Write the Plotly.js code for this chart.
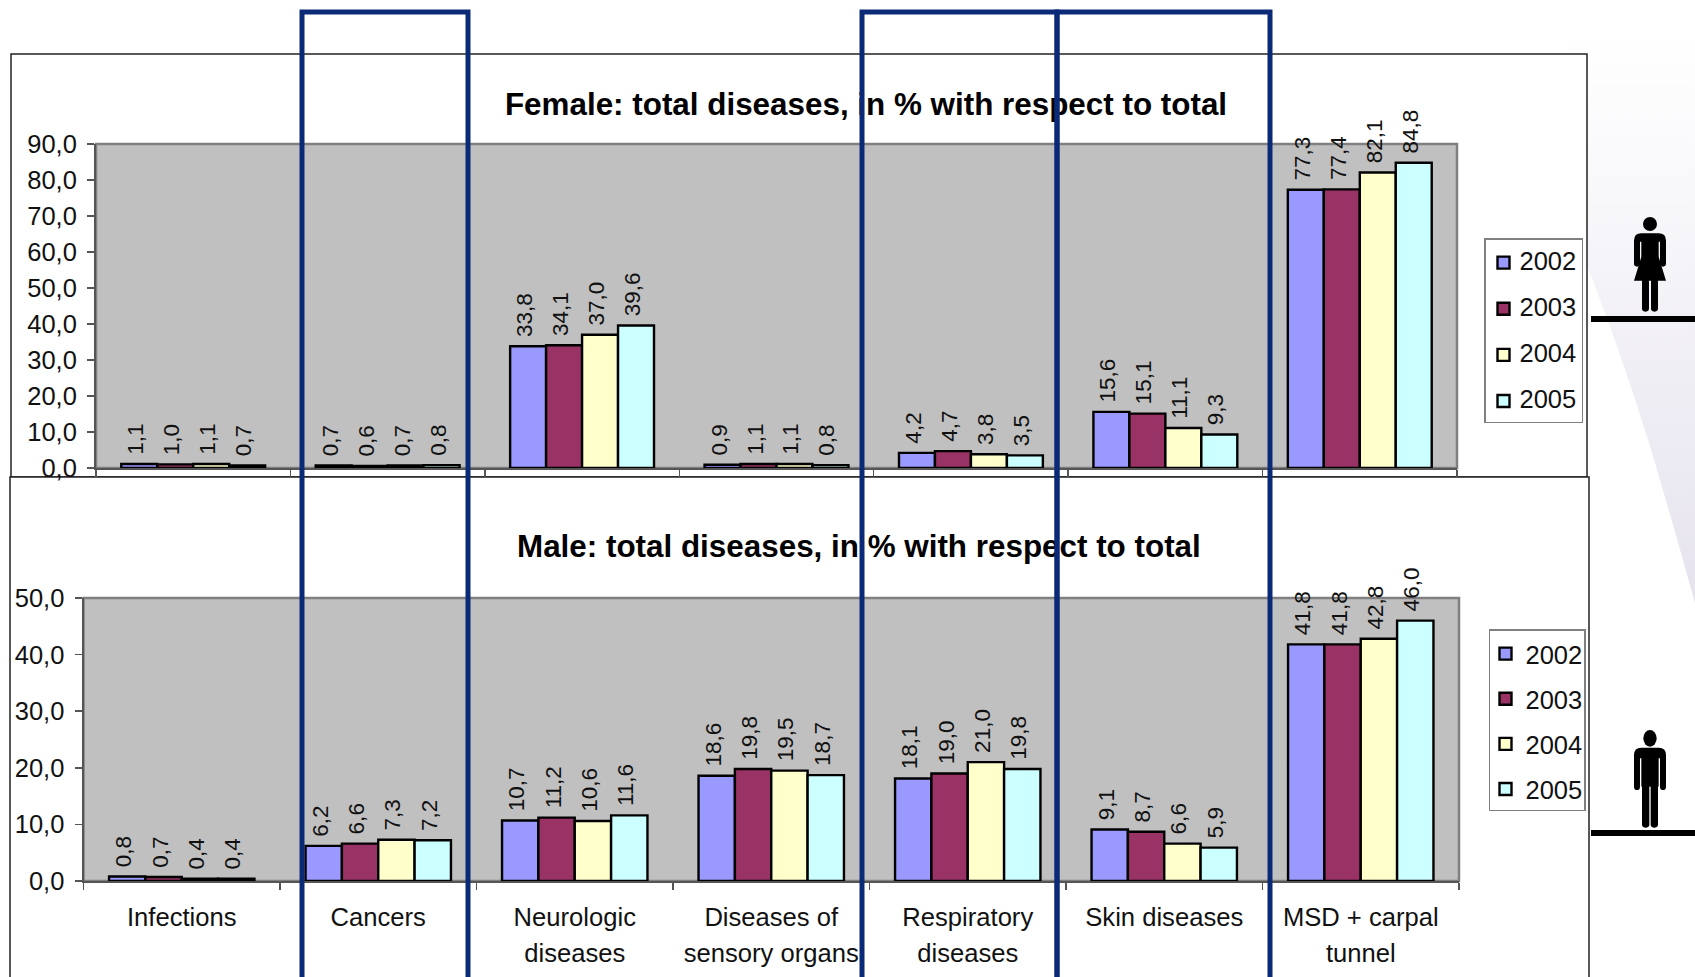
<!DOCTYPE html>
<html>
<head>
<meta charset="utf-8">
<title>Total diseases by sex</title>
<script src="https://cdn.plot.ly/plotly-3.0.1.min.js"></script>
<style>
html,body{margin:0;padding:0;background:#fff;overflow:hidden}
/* Entry text sits a little closer to the swatches and slightly above their centres */
.legend2 .legendtext{transform:translate(-3.5px,-3.5px)}
</style>
</head>
<body>
<div id="chart"></div>
<script>
// Disease groups shown along the shared category axis
const categories = ['Infections', 'Cancers', 'Neurologic<br>diseases', 'Diseases of<br>sensory organs',
                    'Respiratory<br>diseases', 'Skin diseases', 'MSD + carpal<br>tunnel'];
const years = ['2002', '2003', '2004', '2005'];
const colors = ['#9999ff', '#993366', '#ffffcc', '#ccffff'];

// Female, % with respect to total
const female2002 = [1.1, 0.7, 33.8, 0.9, 4.2, 15.6, 77.3];
const female2003 = [1.0, 0.6, 34.1, 1.1, 4.7, 15.1, 77.4];
const female2004 = [1.1, 0.7, 37.0, 1.1, 3.8, 11.1, 82.1];
const female2005 = [0.7, 0.8, 39.6, 0.8, 3.5, 9.3, 84.8];

// Male, % with respect to total
const male2002 = [0.8, 6.2, 10.7, 18.6, 18.1, 9.1, 41.8];
const male2003 = [0.7, 6.6, 11.2, 19.8, 19.0, 8.7, 41.8];
const male2004 = [0.4, 7.3, 10.6, 19.5, 21.0, 6.6, 42.8];
const male2005 = [0.4, 7.2, 11.6, 18.7, 19.8, 5.9, 46.0];

const femaleTitle = 'Female: total diseases, in % with respect to total';
const maleTitle = 'Male: total diseases, in % with respect to total';

const W = 1695, H = 977;
const px = v => v / W;
const py = v => 1 - v / H;
const FONT = '"Liberation Sans", Arial, sans-serif';
const INK = '#111111';

// Plot rectangles and frames, in page pixels
const femalePlot = {l: 96, r: 1457, t: 144, b: 468};
const malePlot = {l: 83.5, r: 1459, t: 598, b: 881};

// Category text is set smaller than the axis font, which opens up the line spacing
const tickLabels = categories.map(c => c.split('<br>').map(s => `<span style="font-size:25.6px">${s}</span>`).join('<br>'));

function series(values, i, xa, ya, legend, prefix) {
  return {
    type: 'bar', x: categories, y: values, name: years[i], xaxis: xa, yaxis: ya,
    legend: legend, legendgroup: prefix + years[i],
    marker: {color: colors[i], line: {color: '#000000', width: 2.4}},
    texttemplate: '\u00a0%{y:.1f}', textposition: 'outside', textangle: -90,
    constraintext: 'none', cliponaxis: false,
    textfont: {family: FONT, size: 22.5, color: INK}, hoverinfo: 'x+y+name'
  };
}

const traces = [
  ...[female2002, female2003, female2004, female2005].map((v, i) => series(v, i, 'x', 'y', 'legend', 'f')),
  ...[male2002, male2003, male2004, male2005].map((v, i) => series(v, i, 'x2', 'y2', 'legend2', 'm'))
];

function yAxis(plot, top, anchor) {
  return {
    domain: [py(plot.b), py(plot.t)], range: [0, top], dtick: 10, anchor: anchor,
    tickformat: '.1f', ticks: 'outside', ticklen: 7, tickwidth: 1.5, tickcolor: '#555555',
    showline: true, linecolor: '#555555', linewidth: 2, showgrid: false, zeroline: false,
    ticklabelstandoff: 5, tickfont: {family: FONT, size: 25.5, color: INK}, fixedrange: true
  };
}
function xAxis(plot, anchor, labels) {
  return {
    domain: [px(plot.l), px(plot.r)], anchor: anchor, type: 'category', categoryorder: 'array', categoryarray: categories,
    tickmode: 'array', tickvals: categories, ticktext: tickLabels,
    tickson: 'boundaries', ticks: 'outside', ticklen: 7, tickwidth: 1.5, tickcolor: '#555555',
    showline: true, linecolor: '#555555', linewidth: 2, showgrid: false, zeroline: false,
    showticklabels: labels, automargin: false, tickangle: 0, ticklabelstandoff: 10,
    tickfont: {family: FONT, size: 27.7, color: INK}, fixedrange: true
  };
}

function frame(x0, y0, x1, y1) {
  return {type: 'rect', layer: 'below', xref: 'paper', yref: 'paper', x0: px(x0), x1: px(x1), y0: py(y0), y1: py(y1),
          fillcolor: '#ffffff', line: {color: '#222222', width: 1.5}};
}
function plotArea(p) {
  return {type: 'rect', layer: 'below', xref: 'paper', yref: 'paper', x0: px(p.l), x1: px(p.r), y0: py(p.b), y1: py(p.t),
          fillcolor: '#c0c0c0', line: {color: '#808080', width: 2.5}};
}
function column(x0, x1) {
  return {type: 'rect', layer: 'above', xref: 'paper', yref: 'paper', x0: px(x0), x1: px(x1), y0: py(1010), y1: py(12),
          fillcolor: 'rgba(0,0,0,0)', line: {color: '#0a2a78', width: 5}};
}

// Page backdrop: soft lavender wedge, the two pictograms and their platforms
const womanIcon = `<g transform="translate(1600,200) scale(0.3333)">
  <circle cx="150" cy="72" r="21"/>
  <path d="M102,190V122Q102,100 124,100H176Q198,100 198,122V190Q198,200 189,200Q180,200 180,190V125H120V190Q120,200 111,200Q102,200 102,190Z"/>
  <path d="M124,105H176V170L198,242H102L124,170Z"/>
  <rect x="126" y="235" width="21" height="100" rx="10"/><rect x="153" y="235" width="21" height="100" rx="10"/></g>`;
const manIcon = `<g transform="translate(1600,720) scale(0.3333)">
  <ellipse cx="150" cy="55" rx="20" ry="25"/>
  <path d="M102,200V105Q102,83 124,83H176Q198,83 198,105V200Q198,210 189,210Q180,210 180,200V115H120V200Q120,210 111,210Q102,210 102,200Z"/>
  <path d="M124,90H176V200H124Z"/>
  <rect x="126" y="190" width="22" height="133" rx="10"/><rect x="152" y="190" width="22" height="133" rx="10"/></g>`;
const backdrop = `<svg xmlns="http://www.w3.org/2000/svg" width="${W}" height="${H}" viewBox="0 0 ${W} ${H}">
  <defs><linearGradient id="g" x1="0" y1="33" x2="0" y2="603" gradientUnits="userSpaceOnUse">
    <stop offset="0" stop-color="#ffffff"/><stop offset="1" stop-color="#e6e3ee"/></linearGradient></defs>
  <path fill="url(#g)" d="M1565,33H1695V603Q1672,520 1650,446Q1620,350 1588,268H1565Z"/>
  ${womanIcon}${manIcon}
  <rect x="1591" y="316" width="104" height="6"/><rect x="1591" y="830" width="104" height="6"/></svg>`;

function legendBox(x, y, gap) {
  return {x: px(x), y: py(y), xanchor: 'left', yanchor: 'top', bgcolor: '#ffffff', bordercolor: '#808080', borderwidth: 1.5,
          font: {family: FONT, size: 25.5, color: INK}, itemclick: false, itemdoubleclick: false, tracegroupgap: gap};
}

const layout = {
  width: W, height: H, autosize: false, margin: {l: 0, r: 0, t: 0, b: 0, pad: 0},
  paper_bgcolor: '#ffffff', plot_bgcolor: '#c0c0c0', separators: ',.',
  barmode: 'group', bargap: 0.26, bargroupgap: 0,
  title: {text: '<b>' + femaleTitle + '</b>', x: px(866), y: py(104), xref: 'paper', yref: 'paper', xanchor: 'center', yanchor: 'middle',
          font: {family: FONT, size: 31.4, color: '#000000'}},
  annotations: [{text: '<b>' + maleTitle + '</b>', x: px(859), y: py(546), xref: 'paper', yref: 'paper', xanchor: 'center', yanchor: 'middle',
                 showarrow: false, font: {family: FONT, size: 31.4, color: '#000000'}}],
  xaxis: xAxis(femalePlot, 'y', false), yaxis: yAxis(femalePlot, 90, 'x'),
  xaxis2: xAxis(malePlot, 'y2', true), yaxis2: yAxis(malePlot, 50, 'x2'),
  legend: legendBox(1482, 238, 10), legend2: legendBox(1484, 629, 9),
  images: [{source: 'data:image/svg+xml;charset=utf-8,' + encodeURIComponent(backdrop), xref: 'paper', yref: 'paper',
            x: 0, y: 1, sizex: 1, sizey: 1, xanchor: 'left', yanchor: 'top', sizing: 'stretch', layer: 'below'}],
  shapes: [frame(11, 54, 1587, 477), plotArea(femalePlot), frame(10, 477, 1589, 1010), plotArea(malePlot),
           column(302, 468), column(862, 1057), column(1057, 1270)]
};

// Tightens a legend box and nudges its entry text after layout
function tightenLegend(selector, textDx, textDy, bgDx, bgDw, bgDh) {
  const g = document.querySelector(selector);
  if (!g) return;
  g.querySelectorAll('.legendtext').forEach(t => t.setAttribute('transform', `translate(${textDx},${textDy})`));
  const bg = g.querySelector('rect.bg');
  if (bg) {
    bg.setAttribute('x', (+bg.getAttribute('x') || 0) + bgDx);
    bg.setAttribute('width', +bg.getAttribute('width') + bgDw);
    bg.setAttribute('height', +bg.getAttribute('height') + bgDh);
  }
  g.querySelectorAll('path.legendbar').forEach(p => p.setAttribute('transform', 'scale(1.15)'));
}

Plotly.newPlot('chart', traces, layout, {displayModeBar: false, staticPlot: true}).then(() => {
  // The blue columns run over the chart titles, so the text layer goes beneath them
  const above = document.querySelector('.layer-above');
  const info = document.querySelector('.infolayer');
  if (above && info) above.parentNode.insertBefore(info, above);
  tightenLegend('.legend', -4, -3, 2, -6, -3);
  tightenLegend('.legend2', 0, 0, 4.5, -8, -3);
  // Value labels sit a little left of their bars' centres
  document.querySelectorAll('.bartext').forEach(t => {
    const old = t.getAttribute('transform') || '';
    t.setAttribute('transform', 'translate(-3.5,0) ' + old);
  });
});
</script>
</body>
</html>
